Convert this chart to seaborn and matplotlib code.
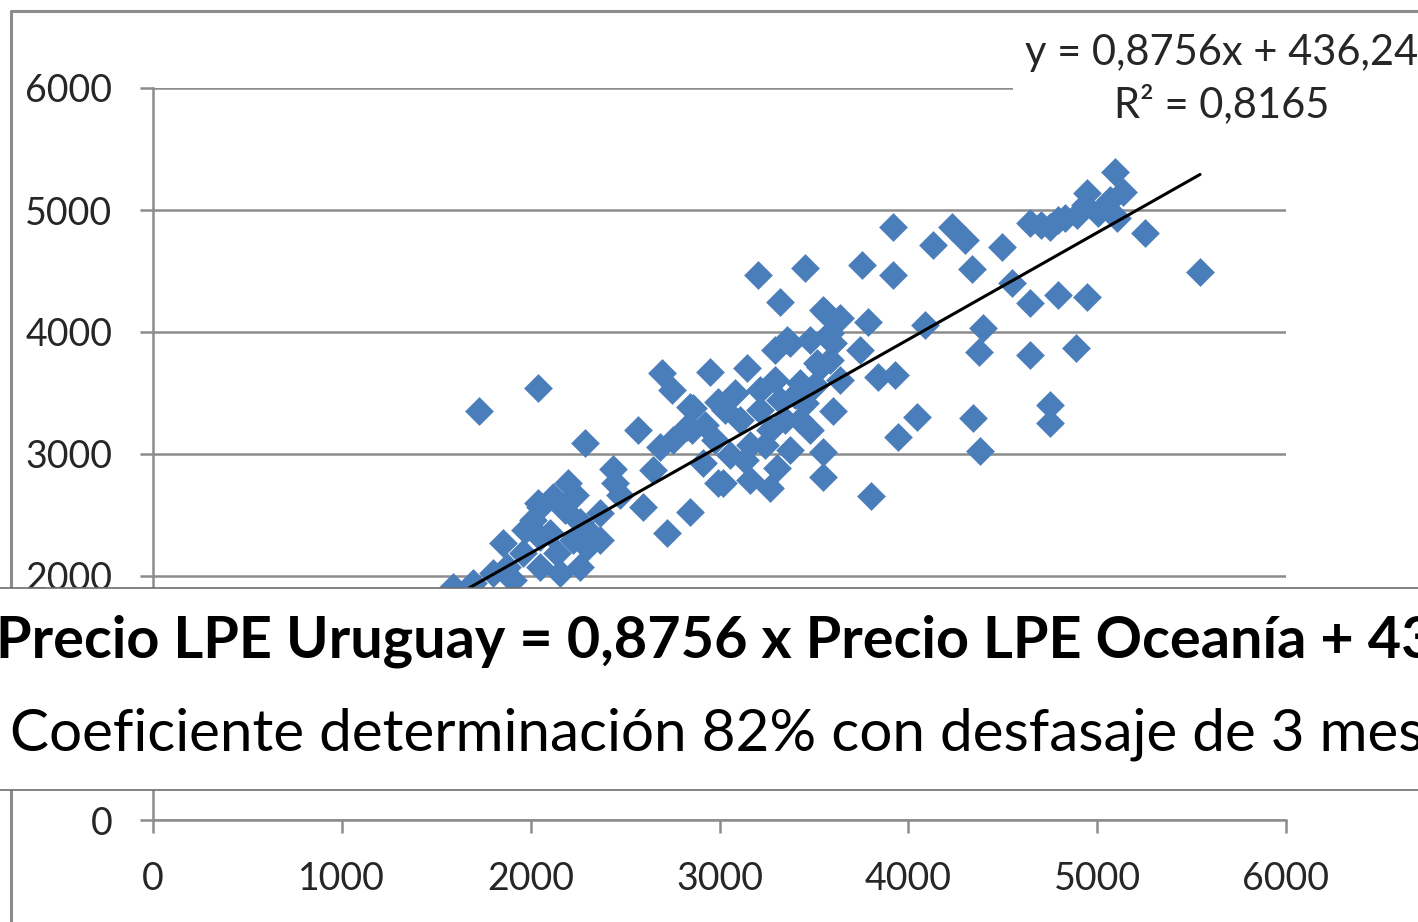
import seaborn as sns
import matplotlib.pyplot as plt
import matplotlib.patches as mpatches
import matplotlib.lines as mlines
import pandas as pd

# precio LPE Oceanía (x) y precio LPE Uruguay 3 meses después (y)
oceania = [3920, 3755, 3920, 4130, 4230, 4300, 4335, 4495, 4550, 4645, 4645, 4750, 4795, 4795,
           4895, 4945, 4945, 5005, 5095, 5135, 5105, 5255, 5545, 3785, 4090, 4395, 4375, 4645,
           4890, 5070, 4935, 4830, 4700,
           3840, 3930, 3600, 4045, 3945, 4345, 4750, 4750, 4380, 3550, 3550, 3800,
           3205, 3455, 3320, 3550, 3360, 3600, 3515, 2695, 2950, 3145, 2750, 2040, 1725, 2570,
           2290, 3270, 2845, 2720, 2595, 2435, 2445, 2200, 2040, 1855, 2990, 3305, 3295, 3375,
           3480, 3585, 3565, 3640, 3530, 3425, 3455, 2990, 2860, 3080, 3160, 3020, 2915, 2855,
           2650, 2685, 2755, 2830, 2845,
           3110, 3215, 3270, 3160, 3055, 3345, 3215, 3320, 3400, 3295, 2975, 3135, 3375, 3480,
           2925, 3030, 3240, 3425, 3505, 3640, 3745, 3585,
           2050, 2120, 2010, 2260, 2225, 2315, 2365, 2140, 2050, 2155, 1960, 1875, 1800, 1695,
           1590, 1905, 2260, 2300, 2050, 2105, 2365, 2475, 1970, 2180, 2235]
uruguay = [4860, 4550, 4470, 4710, 4860, 4755, 4520, 4700, 4400, 4895, 4240, 4860, 4920, 4305,
           4960, 5140, 4285, 4975, 5310, 5150, 4935, 4810, 4490, 4080, 4060, 4035, 3840, 3810,
           3870, 5080, 5040, 4935, 4880,
           3630, 3650, 3355, 3305, 3140, 3295, 3400, 3255, 3025, 3015, 2810, 2655,
           4465, 4525, 4245, 4180, 3935, 3910, 3745, 3665, 3670, 3705, 3525, 3540, 3355, 3195,
           3090, 2720, 2525, 2355, 2565, 2875, 2760, 2760, 2600, 2270, 2760, 2885, 3855, 3910,
           3935, 3990, 4155, 4115, 3715, 3580, 3420, 3425, 3375, 3500, 2785, 2760, 2925, 3195,
           2870, 3055, 3115, 3220, 3385,
           3280, 3360, 3195, 3075, 2990, 3280, 3525, 3445, 3485, 3605, 3115, 2950, 3035, 3195,
           3240, 3360, 3075, 3280, 3565, 3605, 3855, 3770,
           2565, 2650, 2460, 2445, 2295, 2355, 2515, 2190, 2075, 2025, 2190, 2075, 2025, 1945,
           1910, 1965, 2075, 2240, 2320, 2355, 2295, 2665, 2380, 2540, 2665]

pendiente = 0.8756
ordenada = 436.24
ticks = [0, 1000, 2000, 3000, 4000, 5000, 6000]
etiqueta_tendencia = "y = 0,8756x + 436,24\nR² = 0,8165"
titulo = "Precio LPE Uruguay = 0,8756 x Precio LPE Oceanía + 436"
subtitulo = "Coeficiente determinación 82% con desfasaje de 3 meses"

sns.set_style('white')
plt.rcParams['font.family'] = ['Lato', 'DejaVu Sans']

W, H = 1418, 922
gris = '#8C8C8C'
fig = plt.figure(figsize=(W / 100, H / 100), dpi=100)
ax = fig.add_axes([153 / W, 1 - 820 / H, (1286 - 153) / W, (820 - 88) / H])

df = pd.DataFrame({'oceania': oceania, 'uruguay': uruguay})
sns.scatterplot(data=df, x='oceania', y='uruguay', marker='D', s=215, color='#4A7EBB',
                linewidth=0, ax=ax, zorder=3)

# línea de tendencia con la ecuación del gráfico
xs = [min(oceania), max(oceania)]
tend = pd.DataFrame({'x': xs, 'y': [pendiente * v + ordenada for v in xs]})
sns.lineplot(data=tend, x='x', y='y', color='black', linewidth=2.2, ax=ax, zorder=4)

ax.set_xlim(0, 6000)
ax.set_ylim(0, 6000)
ax.set_xticks(ticks)
ax.set_yticks(ticks)
ax.set_xlabel('')
ax.set_ylabel('')
ax.yaxis.grid(True, color=gris, linewidth=1.8)
ax.set_axisbelow(True)
for s in ['top', 'right']:
    ax.spines[s].set_visible(False)
for s in ['left', 'bottom']:
    ax.spines[s].set_color(gris)
    ax.spines[s].set_linewidth(1.8)
ax.tick_params(direction='out', length=9.4, width=1.8, color=gris, labelsize=27,
               labelcolor='#262626', pad=20)
ax.tick_params(axis='y', left=True)
ax.tick_params(axis='x', bottom=True)

# borde exterior del gráfico
fig.add_artist(mlines.Line2D([11 / W, 11 / W, 1.0], [0, 1 - 11 / H, 1 - 11 / H],
                             transform=fig.transFigure, color=gris, linewidth=2.2, zorder=6))

fig.text(1222 / W, 1 - 79 / H, etiqueta_tendencia, ha='center', va='center', ma='center',
         fontsize=30, color='#262626', linespacing=1.4, zorder=5,
         bbox=dict(boxstyle='square,pad=0.3', fc='white', ec='none'))

# recuadro blanco con el texto superpuesto
fig.add_artist(mpatches.Rectangle((-0.01, 1 - 790 / H), 1.02, (790 - 588) / H,
                                  transform=fig.transFigure, facecolor='white',
                                  edgecolor='#6E6E6E', linewidth=1.2, zorder=10))
fig.text(-4 / W, 1 - 657 / H, titulo, ha='left', va='baseline', fontsize=41.5,
         fontweight='bold', color='black', zorder=11)
fig.text(10 / W, 1 - 750 / H, subtitulo, ha='left', va='baseline', fontsize=42,
         color='black', zorder=11)

fig.savefig('out.png', dpi=100)
